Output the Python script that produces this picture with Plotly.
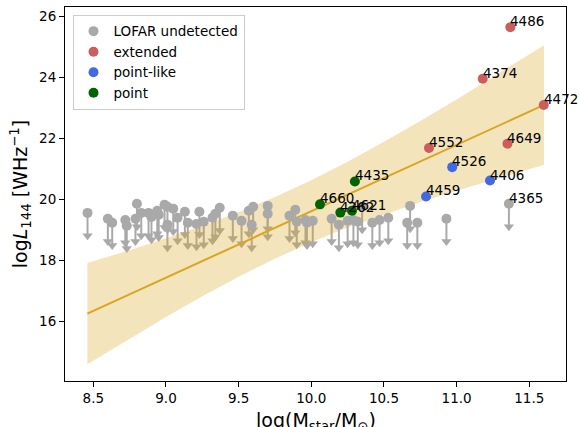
import plotly.graph_objects as go

# ---------------- data ----------------
# LOFAR-undetected galaxies (upper limits): log M*, log L144
UND_X = [8.46, 8.60, 8.63, 8.72, 8.73, 8.79, 8.80, 8.83, 8.88, 8.90, 8.94, 8.95,
         8.99, 9.01, 9.01, 9.05, 9.08, 9.13, 9.15, 9.21, 9.23, 9.26, 9.32, 9.34,
         9.37, 9.46, 9.52, 9.57, 9.59, 9.60, 9.70, 9.70, 9.85, 9.89, 9.90, 9.96,
         9.97, 10.01, 10.14, 10.19, 10.25, 10.29, 10.32, 10.35, 10.42, 10.47,
         10.53, 10.66, 10.68, 10.73, 10.93, 11.36]
UND_Y = [19.56, 19.37, 19.24, 19.33, 19.14, 19.37, 19.86, 19.56, 19.56, 19.43, 19.63, 19.50,
         19.83, 19.76, 19.17, 19.70, 19.40, 19.60, 19.24, 19.20, 19.60, 19.27, 19.40, 19.53,
         19.73, 19.47, 19.30, 19.63, 19.17, 19.76, 19.53, 19.79, 19.47, 19.66, 19.27, 19.33,
         19.24, 19.30, 19.37, 19.17, 19.30, 19.33, 19.27, 19.76, 19.24, 19.33,
         19.40, 19.24, 19.79, 19.24, 19.37, 19.86]
UND_NAMES = [""] * 51 + ["4365"]

EXT_X = [11.37, 11.18, 11.60, 10.81, 11.35]
EXT_Y = [25.65, 23.96, 23.10, 21.69, 21.83]
EXT_NAMES = ["4486", "4374", "4472", "4552", "4649"]

PL_X = [10.97, 11.23, 10.79]
PL_Y = [21.06, 20.62, 20.10]
PL_NAMES = ["4526", "4406", "4459"]

PT_X = [10.30, 10.06, 10.20, 10.28]
PT_Y = [20.59, 19.84, 19.57, 19.63]
PT_NAMES = ["4435", "4660", "4262", "4621"]

# fitted relation and its band
FIT_X = [8.459, 11.602]
FIT_Y = [16.26, 23.10]
BAND_X = [8.459, 8.75, 9.0, 9.25, 9.5, 9.75, 10.0, 10.25, 10.5, 10.75, 11.0, 11.25, 11.602]
BAND_HI = [17.92, 18.34, 18.73, 19.14, 19.58, 20.08, 20.63, 21.24, 21.89, 22.57, 23.28, 24.01, 25.06]
BAND_LO = [14.60, 15.44, 16.15, 16.83, 17.47, 18.06, 18.60, 19.08, 19.51, 19.92, 20.29, 20.65, 21.14]

X_TICKS = [8.5, 9.0, 9.5, 10.0, 10.5, 11.0, 11.5]
Y_TICKS = [16, 18, 20, 22, 24, 26]

X_TITLE = "log(M<sub>star</sub>/M<sub>⊙</sub>)"
Y_TITLE = "log<i>L</i><sub>144</sub> [WHz<sup>−1</sup>]"

# ---------------- style ----------------
FONT = "DejaVu Sans"
GREY = "#a9a9a9"
RED = "#cd5c5c"
BLUE = "#4169e1"
GREEN = "#006400"
GOLD = "#daa520"
LIMIT_LEN = 0.75

fig = go.Figure()

# upper-limit bars and arrowheads
seg_x, seg_y = [], []
for x, y in zip(UND_X, UND_Y):
    seg_x += [x, x, None]
    seg_y += [y, y - LIMIT_LEN, None]
fig.add_trace(go.Scatter(x=seg_x, y=seg_y, mode="lines",
                         line=dict(color=GREY, width=2), showlegend=False, hoverinfo="skip"))
fig.add_trace(go.Scatter(x=UND_X, y=[y - LIMIT_LEN for y in UND_Y], mode="markers",
                         marker=dict(symbol="triangle-down", size=9, color=GREY),
                         showlegend=False, hoverinfo="skip"))

# band
fig.add_trace(go.Scatter(x=BAND_X, y=BAND_LO, mode="lines", line=dict(width=0),
                         showlegend=False, hoverinfo="skip"))
fig.add_trace(go.Scatter(x=BAND_X, y=BAND_HI, mode="lines", line=dict(width=0),
                         fill="tonexty", fillcolor="rgba(218,165,32,0.3)",
                         showlegend=False, hoverinfo="skip"))
fig.add_trace(go.Scatter(x=FIT_X, y=FIT_Y, mode="lines", line=dict(color=GOLD, width=2),
                         showlegend=False))

# points
for xs, ys, col, name in [(UND_X, UND_Y, GREY, "LOFAR undetected"),
                          (EXT_X, EXT_Y, RED, "extended"),
                          (PL_X, PL_Y, BLUE, "point-like"),
                          (PT_X, PT_Y, GREEN, "point")]:
    fig.add_trace(go.Scatter(x=xs, y=ys, mode="markers", name=name,
                             marker=dict(color=col, size=10, line=dict(width=0))))

# labels
for xs, ys, names in [(UND_X, UND_Y, UND_NAMES), (EXT_X, EXT_Y, EXT_NAMES),
                      (PL_X, PL_Y, PL_NAMES), (PT_X, PT_Y, PT_NAMES)]:
    for x, y, n in zip(xs, ys, names):
        if n:
            fig.add_annotation(x=x, y=y, text=n, showarrow=False, xanchor="left",
                               yanchor="bottom", yshift=-4, xshift=-2,
                               font=dict(family=FONT, size=13.5, color="black"))

# x-axis title (placed like the reference, partly below the page edge)
fig.add_annotation(xref="paper", yref="paper", x=0.5, y=0, xanchor="center", yanchor="top",
                   yshift=-26, text=X_TITLE, showarrow=False,
                   font=dict(family=FONT, size=19, color="black"))

axis_common = dict(showline=True, linecolor="black", linewidth=1.1, mirror=True,
                   ticks="outside", ticklen=5, tickwidth=1.1, tickcolor="black",
                   showgrid=False, zeroline=False, automargin=False,
                   tickfont=dict(family=FONT, size=13.5, color="black"))

fig.update_layout(
    width=579, height=427,
    margin=dict(l=65, r=13, t=7, b=46),
    paper_bgcolor="white", plot_bgcolor="white",
    font=dict(family=FONT, color="black"),
    xaxis=dict(range=[8.305, 11.753], tickvals=X_TICKS,
               ticktext=[f"{v:.1f}" for v in X_TICKS],
               **axis_common),
    yaxis=dict(range=[14.05, 26.31], tickvals=Y_TICKS,
               ticktext=[str(v) for v in Y_TICKS],
               title=dict(text=Y_TITLE, font=dict(family=FONT, size=19), standoff=6),
               **axis_common),
    legend=dict(x=0.015, y=0.979, xanchor="left", yanchor="top",
                traceorder="normal",
                bgcolor="rgba(255,255,255,0.8)", bordercolor="#cccccc", borderwidth=1,
                font=dict(family=FONT, size=13.5, color="black"),
                itemsizing="trace", tracegroupgap=0),
    showlegend=True,
)

fig.write_html("out.html", config={"displayModeBar": False},
               post_script="document.body.style.margin='0';document.body.style.overflow='hidden';")
